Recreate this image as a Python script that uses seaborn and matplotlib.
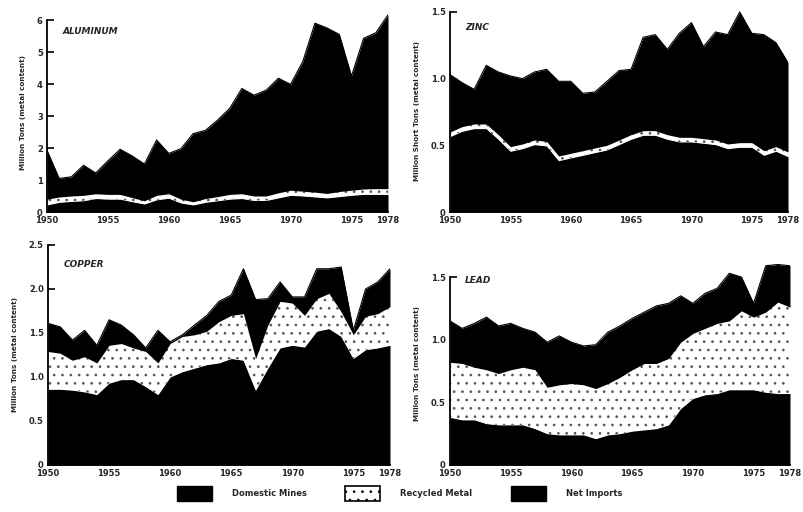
import numpy as np
import pandas as pd
import matplotlib
matplotlib.use("Agg")
import matplotlib.pyplot as plt
from matplotlib.patches import Patch
import seaborn as sns

# ---------------- data (million tons, metal content) ----------------
years = list(range(1950, 1979))
x_ticks = [1950, 1955, 1960, 1965, 1970, 1975, 1978]
x_tick_labels = ["1950", "1955", "1960", "1965", "1970", "1975", "1978"]
layer_names = ["Domestic Mines", "Recycled Metal", "Net Imports"]

# boundaries: top of domestic mines, top of recycled, total
al_domestic_top = [0.22, 0.30, 0.33, 0.35, 0.42, 0.40, 0.40, 0.32, 0.25, 0.38, 0.43, 0.28, 0.22, 0.30, 0.35,
                   0.40, 0.42, 0.36, 0.36, 0.44, 0.52, 0.50, 0.47, 0.44, 0.48, 0.52, 0.55, 0.55, 0.55]
al_recycled_top = [0.40, 0.47, 0.50, 0.52, 0.57, 0.55, 0.55, 0.45, 0.35, 0.52, 0.57, 0.40, 0.32, 0.42, 0.48,
                   0.55, 0.57, 0.50, 0.50, 0.60, 0.68, 0.65, 0.62, 0.58, 0.64, 0.68, 0.72, 0.73, 0.73]
al_total = [1.93, 1.05, 1.10, 1.46, 1.22, 1.60, 1.96, 1.75, 1.50, 2.25, 1.83, 1.98, 2.45, 2.55, 2.87,
            3.24, 3.86, 3.65, 3.81, 4.18, 3.99, 4.70, 5.90, 5.75, 5.55, 4.25, 5.43, 5.60, 6.16]

zn_recycled_top = [0.60, 0.64, 0.66, 0.66, 0.58, 0.49, 0.51, 0.54, 0.53, 0.42, 0.44, 0.46, 0.48, 0.50, 0.54,
                   0.58, 0.61, 0.61, 0.58, 0.56, 0.56, 0.55, 0.54, 0.51, 0.52, 0.52, 0.46, 0.49, 0.45]
zn_domestic_top = [0.565, 0.605, 0.625, 0.625, 0.545, 0.455, 0.475, 0.505, 0.495, 0.385, 0.405, 0.425, 0.445,
                   0.465, 0.505, 0.545, 0.575, 0.575, 0.545, 0.525, 0.525, 0.515, 0.505, 0.475, 0.485, 0.485,
                   0.425, 0.455, 0.415]
zn_total = [1.03, 0.97, 0.92, 1.10, 1.05, 1.02, 1.00, 1.05, 1.07, 0.98, 0.98, 0.89, 0.90, 0.98, 1.06,
            1.07, 1.31, 1.33, 1.22, 1.34, 1.42, 1.24, 1.35, 1.33, 1.50, 1.34, 1.33, 1.27, 1.12]

cu_domestic_top = [0.86, 0.86, 0.85, 0.83, 0.80, 0.93, 0.97, 0.97, 0.89, 0.80, 1.00, 1.06, 1.10, 1.14, 1.16,
                   1.21, 1.19, 0.85, 1.10, 1.33, 1.36, 1.34, 1.52, 1.55, 1.46, 1.21, 1.31, 1.33, 1.36]
cu_recycled_top = [1.29, 1.27, 1.19, 1.23, 1.16, 1.36, 1.38, 1.33, 1.29, 1.16, 1.38, 1.46, 1.48, 1.52, 1.63,
                   1.70, 1.72, 1.21, 1.59, 1.86, 1.84, 1.70, 1.89, 1.95, 1.74, 1.48, 1.69, 1.72, 1.80]
cu_total = [1.61, 1.57, 1.42, 1.53, 1.36, 1.65, 1.59, 1.48, 1.33, 1.53, 1.40, 1.48, 1.59, 1.70, 1.86,
            1.93, 2.23, 1.88, 1.89, 2.08, 1.91, 1.91, 2.23, 2.23, 2.25, 1.53, 2.00, 2.08, 2.23]

pb_domestic_top = [0.38, 0.36, 0.36, 0.33, 0.32, 0.32, 0.32, 0.29, 0.25, 0.24, 0.24, 0.24, 0.21, 0.24, 0.25,
                   0.27, 0.28, 0.29, 0.32, 0.45, 0.53, 0.56, 0.57, 0.60, 0.60, 0.60, 0.58, 0.57, 0.57]
pb_recycled_top = [0.82, 0.81, 0.78, 0.76, 0.73, 0.76, 0.78, 0.76, 0.62, 0.64, 0.65, 0.64, 0.61, 0.65, 0.70,
                   0.76, 0.81, 0.81, 0.85, 0.98, 1.05, 1.09, 1.13, 1.15, 1.23, 1.18, 1.22, 1.30, 1.26]
pb_total = [1.15, 1.09, 1.13, 1.18, 1.11, 1.13, 1.09, 1.06, 0.98, 1.03, 0.98, 0.95, 0.96, 1.06, 1.11,
            1.17, 1.22, 1.27, 1.29, 1.35, 1.29, 1.37, 1.41, 1.53, 1.50, 1.29, 1.59, 1.60, 1.59]

panels = [
    dict(name="ALUMINUM", ylabel="Million Tons (metal content)", dm=al_domestic_top, rc=al_recycled_top,
         tot=al_total, yticks=[0, 1, 2, 3, 4, 5, 6], yticklabels=["0", "1", "2", "3", "4", "5", "6"],
         ylim=6.2, spine_top=6, rect=[47, 13.6, 341, 198.4]),
    dict(name="ZINC", ylabel="Million Short Tons (metal content)", dm=zn_domestic_top, rc=zn_recycled_top,
         tot=zn_total, yticks=[0, 0.5, 1.0, 1.5], yticklabels=["0", "0.5", "1.0", "1.5"],
         ylim=1.52, spine_top=1.5, rect=[450, 9.3, 338, 202.7]),
    dict(name="COPPER", ylabel="Million Tons (metal content)", dm=cu_domestic_top, rc=cu_recycled_top,
         tot=cu_total, yticks=[0, 0.5, 1.0, 1.5, 2.0, 2.5], yticklabels=["0", "0.5", "1.0", "1.5", "2.0", "2.5"],
         ylim=2.5, spine_top=2.5, rect=[48, 245, 342, 220]),
    dict(name="LEAD", ylabel="Million Tons (metal content)", dm=pb_domestic_top, rc=pb_recycled_top,
         tot=pb_total, yticks=[0, 0.5, 1.0, 1.5], yticklabels=["0", "0.5", "1.0", "1.5"],
         ylim=1.62, spine_top=1.5, rect=[450, 262, 340, 203]),
]

# ---------------- drawing ----------------
sns.set_theme(style="ticks")
plt.rcParams["font.family"] = ["DejaVu Sans"]
plt.rcParams["hatch.linewidth"] = 0.7

W, H = 804, 512
fig = plt.figure(figsize=(W / 100, H / 100), dpi=100, facecolor="white")

for p in panels:
    l, t, w, h = p["rect"]
    ax = fig.add_axes([l / W, (H - t - h) / H, w / W, h / H])
    ax.set_facecolor("white")
    df = pd.DataFrame({"year": years, "dm": p["dm"], "rc": p["rc"], "tot": p["tot"]})
    ax.fill_between(df["year"], 0, df["dm"], color="black", linewidth=0)
    ax.fill_between(df["year"], df["dm"], df["rc"], facecolor="white", edgecolor="#555555",
                    hatch="..", linewidth=0)
    ax.fill_between(df["year"], df["rc"], df["tot"], color="black", linewidth=0)
    sns.lineplot(data=df, x="year", y="tot", ax=ax, color="black", linewidth=0.8, legend=False)
    ax.set_xlim(1950, 1978)
    ax.set_ylim(0, p["ylim"])
    ax.set_xticks(x_ticks)
    ax.set_xticklabels(x_tick_labels, fontsize=6, fontweight="bold")
    ax.set_yticks(p["yticks"])
    ax.set_yticklabels(p["yticklabels"], fontsize=6, fontweight="bold")
    ax.tick_params(axis="y", direction="in", length=5, width=1.2, pad=3, color="black")
    ax.tick_params(axis="x", direction="in", length=0, pad=3)
    ax.set_xlabel("")
    ax.set_ylabel(p["ylabel"], fontsize=5.2, fontweight="bold", labelpad=8)
    sns.despine(ax=ax)
    ax.spines["left"].set_bounds(0, p["spine_top"])
    ax.spines["left"].set_linewidth(1.3)
    ax.spines["bottom"].set_linewidth(1.3)
    ax.spines["left"].set_color("black")
    ax.spines["bottom"].set_color("black")
    ax.text(0.045, 0.93, p["name"], transform=ax.transAxes, fontsize=6.5, fontweight="bold",
            fontstyle="italic", va="top", ha="left")

handles = [
    Patch(facecolor="black", edgecolor="black"),
    Patch(facecolor="white", edgecolor="black", hatch="..", linewidth=1.2),
    Patch(facecolor="black", edgecolor="black"),
]
fig.legend(handles, layer_names, loc="center", bbox_to_anchor=(0.497, 0.037), ncol=3, frameon=False,
           prop={"size": 6, "weight": "bold"}, handlelength=4.2, handleheight=2.4,
           handletextpad=2.4, columnspacing=4.6)

fig.savefig("out.png", dpi=100, facecolor="white")
